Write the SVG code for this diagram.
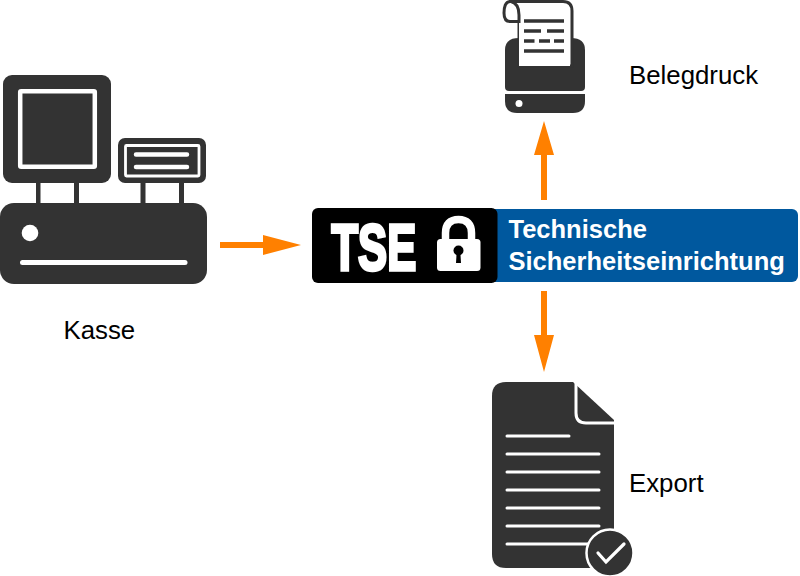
<svg xmlns="http://www.w3.org/2000/svg" width="800" height="576" viewBox="0 0 800 576">
<style>
.d{fill:#333333}
.w{fill:#ffffff}
.wl{fill:none;stroke:#ffffff;stroke-linecap:round}
.dl{fill:none;stroke:#333333}
.lb{font-family:"Liberation Sans",Arial,sans-serif;font-size:25.800px;fill:#000000}
.tt{font-family:"Liberation Sans",Arial,sans-serif;font-size:25.500px;font-weight:bold;fill:#ffffff}
.ar{fill:#ff8000}
</style>
<rect width="800" height="576" fill="#ffffff"/>
<g id="connectors">
<path class="ar" d="M220 242H263V235L301 245L263 255V248H220Z"/>
<path class="ar" d="M541 200V155H534L544 121L554 155H547V200Z"/>
<path class="ar" d="M541 291V335H534L544 372L554 335H547V291Z"/>
</g>
<g id="kasse">
<rect class="d" x="3" y="75" width="108" height="108" rx="9"/>
<rect x="20.200" y="91.200" width="74.600" height="75.600" rx="1" fill="none" stroke="#fff" stroke-width="4.500"/>
<rect class="d" x="118" y="138" width="88" height="45" rx="7"/>
<rect x="125.500" y="145.500" width="73.500" height="30.500" rx="1" fill="none" stroke="#fff" stroke-width="2.800"/>
<path class="wl" stroke-width="4.500" d="M136 154.500H187M136 167H187"/>
<rect class="d" x="36" y="183" width="4.500" height="21"/>
<rect class="d" x="74" y="183" width="5" height="21"/>
<rect class="d" x="140.500" y="183" width="5" height="21"/>
<rect class="d" x="179" y="183" width="5" height="21"/>
<rect class="d" x="0" y="203" width="207" height="81" rx="14"/>
<circle class="w" cx="30" cy="233" r="8.300"/>
<path class="wl" stroke-width="5" d="M22.500 262.500H185"/>
<text class="lb" x="63.500" y="339">Kasse</text>
</g>
<g id="tse">
<rect x="405" y="209" width="393" height="73" rx="6" fill="#00589e"/>
<rect x="312" y="208" width="185.500" height="75" rx="6" fill="#000000"/>
<text transform="translate(331.500 269.500) scale(0.67 1)" x="0" y="0" font-family="'Liberation Sans',Arial,sans-serif" font-weight="bold" font-size="65" fill="#ffffff" stroke="#ffffff" stroke-width="3.500">TSE</text>
<path d="M445.500 242V233C445.500 224 450 219.500 458.500 219.500C467 219.500 471.500 224 471.500 233V242" fill="none" stroke="#fff" stroke-width="7.500"/>
<rect class="w" x="437" y="239" width="43.500" height="32" rx="3.500"/>
<circle cx="458.500" cy="250.500" r="5" fill="#000"/>
<path d="M456.700 251H460.300L461 263H456Z" fill="#000"/>
<text class="tt" x="508.500" y="238">Technische</text>
<text class="tt" x="508.500" y="269.500">Sicherheitseinrichtung</text>
</g>
<g id="belegdruck">
<path class="d" d="M505 50Q505 38 519 38H571Q585 38 585 50V87Q585 91 581 91H509Q505 91 505 87Z"/>
<path class="d" d="M505 94H585V101Q585 113 573 113H517Q505 113 505 101Z"/>
<circle class="w" cx="519" cy="103.500" r="3.500"/>
<path d="M511 1.500H563Q572 1.500 572 11V66H519V15C519 9 517 3 511 1.500C505 1 504 8 504 13C504 19 506 21.500 510 21.500H519" fill="#fff" stroke="#333" stroke-width="3"/>
<rect x="519" y="23" width="51" height="43" fill="#fff"/>
<path class="dl" stroke-width="3.500" d="M524 21H564M524 31H541M547 31H564M524 41H534.500M539 41H550M554 41H564M524 51H564"/>
<text class="lb" x="629" y="84">Belegdruck</text>
</g>
<g id="export">
<path class="d" d="M506 382H573L614 420V554Q614 568 600 568H506Q492 568 492 554V396Q492 382 506 382Z"/>
<path class="wl" stroke-width="3" style="stroke-linecap:butt" d="M576 382V413Q576 423 586 423H614"/>
<path class="wl" stroke-width="3" d="M507 436H569M507 454H599M507 472H599M507 490H599M507 508H599M507 526H599M507 544H590"/>
<circle class="d" cx="610" cy="553" r="23.500" stroke="#fff" stroke-width="2.500"/>
<path class="wl" stroke-width="3.200" d="M598 553L606 562L624 544"/>
<text class="lb" x="629" y="492">Export</text>
</g>
</svg>
